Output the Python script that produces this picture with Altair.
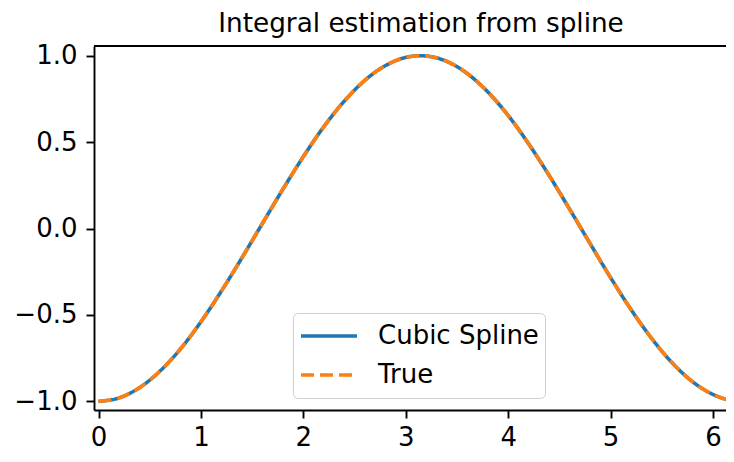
import altair as alt
import pandas as pd

# values
x_vals = [0.0, 0.2, 0.4, 0.6, 0.8, 1.0, 1.2, 1.4, 1.6, 1.8, 2.0, 2.2, 2.4, 2.6, 2.8, 3.0,
          3.14, 3.2, 3.4, 3.6, 3.8, 4.0, 4.2, 4.4, 4.6, 4.8, 5.0, 5.2, 5.4, 5.6, 5.8, 6.0,
          6.2, 6.28]
spline_vals = [-1.000, -0.980, -0.921, -0.825, -0.697, -0.540, -0.362, -0.170, 0.029, 0.227,
               0.416, 0.589, 0.737, 0.857, 0.942, 0.990, 1.000, 0.998, 0.967, 0.897, 0.791,
               0.654, 0.490, 0.307, 0.112, -0.087, -0.284, -0.469, -0.635, -0.776, -0.886,
               -0.960, -0.997, -1.000]
true_vals = [-1.000, -0.980, -0.921, -0.825, -0.697, -0.540, -0.362, -0.170, 0.029, 0.227,
             0.416, 0.589, 0.737, 0.857, 0.942, 0.990, 1.000, 0.998, 0.967, 0.897, 0.791,
             0.654, 0.490, 0.307, 0.112, -0.087, -0.284, -0.469, -0.635, -0.776, -0.886,
             -0.960, -0.997, -1.000]
series_names = ["Cubic Spline", "True"]
series_colors = ["#1f77b4", "#ff7f0e"]
x_ticks = [0, 1, 2, 3, 4, 5, 6]
y_ticks = [-1.0, -0.5, 0.0, 0.5, 1.0]

rows = []
for i, x in enumerate(x_vals):
    rows.append({"x": x, "y": spline_vals[i], "series": series_names[0]})
for i, x in enumerate(x_vals):
    rows.append({"x": x, "y": true_vals[i], "series": series_names[1]})
df = pd.DataFrame(rows)

FONT = "DejaVu Sans"
xscale = alt.Scale(domain=[-0.044, 6.127], nice=False, zero=False)
yscale = alt.Scale(domain=[-1.05, 1.056], nice=False, zero=False)

legend = alt.Legend(
    title=None, orient="none", legendX=199, legendY=267,
    symbolType="stroke", symbolSize=3136, symbolStrokeWidth=3.6,
    labelFontSize=26, labelFont=FONT, labelColor="black", labelOffset=19, labelLimit=400,
    padding=6, clipHeight=34, rowPadding=5, fillColor="rgba(255,255,255,0.8)",
    strokeColor="#d0d0d0", cornerRadius=5,
)

lines = alt.Chart(df).mark_line(strokeWidth=3.6, clip=True, interpolate="monotone").encode(
    x=alt.X("x:Q", scale=xscale,
            axis=alt.Axis(values=x_ticks, format="d", title=None, labelPadding=6)),
    y=alt.Y("y:Q", scale=yscale,
            axis=alt.Axis(values=y_ticks, format=".1f", title=None, labelPadding=9)),
    color=alt.Color("series:N", scale=alt.Scale(domain=series_names, range=series_colors),
                    legend=legend),
    strokeDash=alt.StrokeDash("series:N",
                              scale=alt.Scale(domain=series_names, range=[[1, 0], [13, 6]]),
                              legend=legend),
)

# top spine of the frame
top_spine = alt.Chart(df).mark_rule(color="black", strokeWidth=1.9).encode(
    y=alt.value(0)
)

chart = alt.layer(lines, top_spine).properties(
    width=632, height=364,
    title=alt.TitleParams("Integral estimation from spline", font=FONT, fontSize=26.3,
                          fontWeight="normal", color="black", anchor="middle",
                          frame="group", offset=5, dx=11),
    autosize=alt.AutoSizeParams(type="none"),
    padding={"left": 86, "top": 38, "right": 0, "bottom": 44},
).configure_view(stroke=None).configure_axis(
    grid=False, domainColor="black", domainWidth=1.9, tickColor="black", tickWidth=1.9,
    tickSize=8, labelFont=FONT, labelFontSize=26, labelColor="black",
)

chart.save("out.html", embed_options={"renderer": "svg", "actions": False})
